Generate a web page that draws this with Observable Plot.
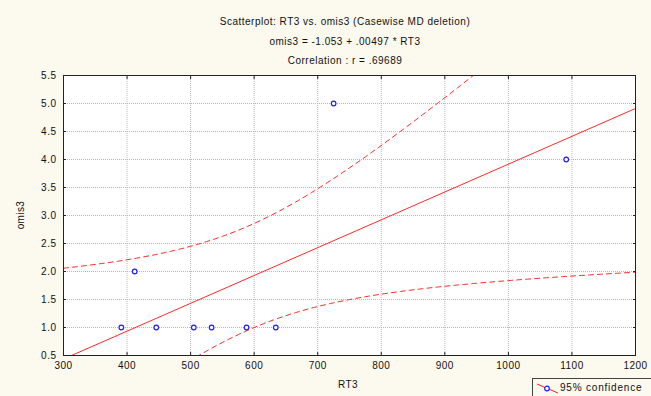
<!DOCTYPE html>
<html>
<head>
<meta charset="utf-8">
<script src="https://cdn.jsdelivr.net/npm/d3@7"></script>
<script src="https://cdn.jsdelivr.net/npm/@observablehq/plot@0.6"></script>
<style>
  html, body { margin: 0; padding: 0; background: #fcf9ee; }
  #wrap { position: relative; width: 651px; height: 396px; overflow: hidden; font-family: "Liberation Sans", Arial, sans-serif; color: #111; }
  .t { position: absolute; left: 0; width: 690px; text-align: center; font-size: 10px; letter-spacing: 0.5px; white-space: nowrap; }
  #ylab { position: absolute; left: 20px; top: 215px; transform: translate(-50%, -50%) rotate(-90deg); font-size: 10px; letter-spacing: 0.4px; }
  #xlab { position: absolute; left: 348px; top: 384px; transform: translate(-50%, -50%); font-size: 10px; letter-spacing: 0.4px; }
  #legend { position: absolute; left: 532px; top: 378px; width: 130px; height: 24px; border: 1px solid #444; background: #fcf9ee; box-sizing: border-box; font-size: 10px; letter-spacing: 0.8px; }
  #legend svg { position: absolute; left: 3px; top: 2px; }
  #legend span { position: absolute; left: 27px; top: 3px; white-space: nowrap; }
  #chart { position: absolute; left: 0; top: 0; }
</style>
</head>
<body>
<div id="wrap">
  <div id="chart"></div>
  <div class="t" id="t1" style="top:16px"></div>
  <div class="t" id="t2" style="top:36px"></div>
  <div class="t" id="t3" style="top:55px"></div>
  <div id="ylab"></div>
  <div id="xlab"></div>
  <div id="legend">
    <svg width="24" height="14"><line x1="1" y1="3" x2="22" y2="12" stroke="#ff2020" stroke-width="1"/><circle cx="11" cy="7.5" r="2.3" fill="white" stroke="#2020ff" stroke-width="1.2"/></svg>
    <span id="legtext"></span>
  </div>
</div>
<script>
// ---- data ----
const rt3   = [391, 412, 446, 505, 533, 588, 634, 725, 1091];
const omis3 = [1, 2, 1, 1, 1, 1, 1, 5, 4];
const xTicks = [300, 400, 500, 600, 700, 800, 900, 1000, 1100, 1200];
const yTicks = [0.5, 1.0, 1.5, 2.0, 2.5, 3.0, 3.5, 4.0, 4.5, 5.0, 5.5];
const intercept = -1.053;
const slope = 0.00497;
const titleLines = [
  "Scatterplot: RT3 vs. omis3 (Casewise MD deletion)",
  "omis3 = -1.053 + .00497 * RT3",
  "Correlation : r = .69689"
];
const xLabel = "RT3";
const yLabel = "omis3";
const legendText = "95% confidence";
const tCrit = 2.3646; // t(0.975, df = 7)

// ---- derived ----
const pts = rt3.map((x, i) => ({x, y: omis3[i]}));
const n = pts.length;
const mx = d3.mean(rt3);
const sxx = d3.sum(rt3, x => (x - mx) ** 2);
const sse = d3.sum(pts, p => (p.y - (intercept + slope * p.x)) ** 2);
const s = Math.sqrt(sse / (n - 2));
const xs = d3.range(xTicks[0], xTicks[xTicks.length - 1] + 1, 5);
const band = xs.map(x => {
  const yh = intercept + slope * x;
  const h = tCrit * s * Math.sqrt(1 / n + (x - mx) ** 2 / sxx);
  return {x, fit: yh, lo: yh - h, hi: yh + h};
});
const fitLine = [xTicks[0], xTicks[xTicks.length - 1]].map(x => ({x, y: intercept + slope * x}));

document.getElementById("t1").textContent = titleLines[0];
document.getElementById("t2").textContent = titleLines[1];
document.getElementById("t3").textContent = titleLines[2];
document.getElementById("xlab").textContent = xLabel;
document.getElementById("ylab").textContent = yLabel;
document.getElementById("legtext").textContent = legendText;

const fmtY = d3.format(".1f");
const blank = () => "";
const gridStyle = {stroke: "#b8b8b8", strokeOpacity: 1, strokeDasharray: "1,1"};
const chart = Plot.plot({
  width: 651,
  height: 396,
  marginTop: 75,
  marginLeft: 63,
  marginRight: 16,
  marginBottom: 41,
  style: {background: "transparent", fontFamily: "'Liberation Sans', Arial, sans-serif", fontSize: "10px", color: "#111", letterSpacing: "0.5px"},
  x: {domain: [300, 1200]},
  y: {domain: [0.5, 5.5]},
  marks: [
    Plot.frame({fill: "white", stroke: "none"}),
    Plot.gridX(xTicks.slice(1, -1), gridStyle),
    Plot.gridY(yTicks.slice(1, -1), gridStyle),
    Plot.line(band, {x: "x", y: "hi", stroke: "#ff2a2a", strokeWidth: 1, strokeDasharray: "5,4", clip: true}),
    Plot.line(band, {x: "x", y: "lo", stroke: "#ff2a2a", strokeWidth: 1, strokeDasharray: "5,4", clip: true}),
    Plot.line(fitLine, {x: "x", y: "y", stroke: "#ff2a2a", strokeWidth: 1, clip: true}),
    Plot.dot(pts, {x: "x", y: "y", r: 2.3, stroke: "#2020ff", strokeWidth: 1.2, fill: "white"}),
    Plot.axisX({ticks: xTicks, tickSize: 0, tickPadding: 6, label: null, tickFormat: d => String(d)}),
    Plot.axisX({anchor: "bottom", ticks: xTicks, tickSize: -3, label: null, tickFormat: blank, stroke: "#222"}),
    Plot.axisX({anchor: "top", ticks: xTicks, tickSize: -3, label: null, tickFormat: blank, stroke: "#222"}),
    Plot.axisY({ticks: yTicks, tickSize: 0, tickPadding: 7, label: null, tickFormat: fmtY}),
    Plot.axisY({anchor: "left", ticks: yTicks, tickSize: -3, label: null, tickFormat: blank, stroke: "#222"}),
    Plot.axisY({anchor: "right", ticks: yTicks, tickSize: -3, label: null, tickFormat: blank, stroke: "#222"}),
    Plot.frame({stroke: "#222", strokeWidth: 1})
  ]
});
document.getElementById("chart").appendChild(chart);
</script>
</body>
</html>
